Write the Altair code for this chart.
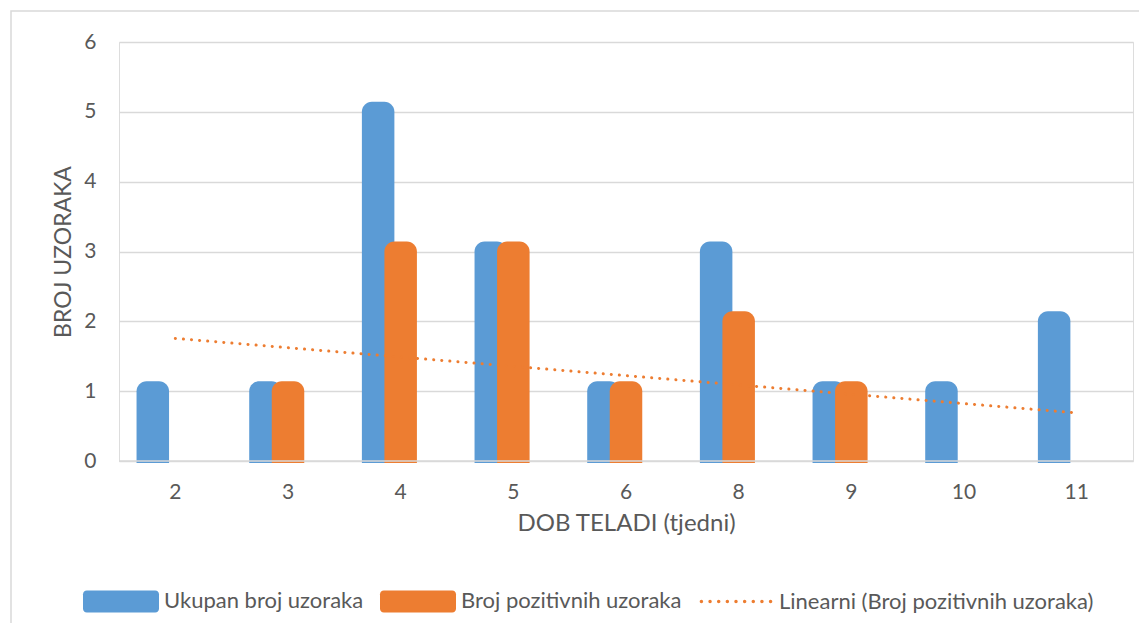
import altair as alt
import pandas as pd

# ---- data ----
dob = ["2", "3", "4", "5", "6", "8", "9", "10", "11"]
ukupan = [1, 1, 5, 3, 1, 3, 1, 1, 2]
pozitivni = [0, 1, 3, 3, 1, 2, 1, 0, 0]

SER_U = "Ukupan broj uzoraka"
SER_P = "Broj pozitivnih uzoraka"
SER_L = "Linearni (Broj pozitivnih uzoraka)"
series = [SER_U, SER_P, SER_L]
X_TITLE = "DOB TELADI (tjedni)"
Y_TITLE = "BROJ UZORAKA"
y_ticks = [0, 1, 2, 3, 4, 5, 6]

BLUE = "#5B9BD5"
ORANGE = "#ED7D31"
TXT = "#595959"
GRID = "#D9D9D9"
FONT = "Lato"

df = pd.DataFrame({
    "idx": list(range(1, len(dob) + 1)),
    "dob": dob,
    SER_U: ukupan,
    SER_P: pozitivni,
})
lookup_vals = [{"idx": i + 1, "dob": d} for i, d in enumerate(dob)]
legend_vals = [{"serija": s} for s in series]

# legend symbol shapes (unit square -1..1)
rrect = ("M-0.9,-0.29 H0.9 A0.1,0.1 0 0 1 1,-0.19 V0.19 A0.1,0.1 0 0 1 0.9,0.29 "
         "H-0.9 A0.1,0.1 0 0 1 -1,0.19 V-0.19 A0.1,0.1 0 0 1 -0.9,-0.29 Z")
_r = 0.045
_dots = []
for k in range(9):
    cx = -0.91 + k * 0.2275
    _dots.append(f"M{cx - _r:.4f},0 a{_r},{_r} 0 1,0 {2 * _r},0 a{_r},{_r} 0 1,0 {-2 * _r},0 Z")
dotline = " ".join(_dots)

xscale = alt.Scale(domain=dob, paddingInner=0.4, paddingOuter=0.2)
yscale = alt.Scale(domain=[0, 6])
color_scale = alt.Scale(domain=series, range=[BLUE, ORANGE, ORANGE])
shape_scale = alt.Scale(domain=series, range=[rrect, rrect, dotline])


def make_legend():
    return alt.Legend(
        title=None,
        orient="none",
        legendX=-36,
        legendY=521,
        direction="horizontal",
        columns=3,
        padding=0,
        symbolSize=76 * 76,
        symbolOpacity=1,
        symbolStrokeWidth=0,
        labelFont=FONT,
        labelFontSize=22,
        labelColor=TXT,
        labelOffset=5,
        labelLimit=0,
        columnPadding=16,
    )


x_axis = alt.Axis(
    title=X_TITLE, labelAngle=0, domain=False, ticks=False, grid=False,
    labelPadding=20, titlePadding=9,
    labelFont=FONT, labelFontSize=21, labelColor=TXT,
    titleFont=FONT, titleFontSize=24, titleColor=TXT, titleFontWeight="normal",
)
y_axis = alt.Axis(
    title=Y_TITLE, values=y_ticks, format="d", domain=False, ticks=False,
    grid=True, gridColor=GRID, gridWidth=1.5,
    labelPadding=23, titlePadding=8,
    labelFont=FONT, labelFontSize=21, labelColor=TXT,
    titleFont=FONT, titleFontSize=23, titleColor=TXT, titleFontWeight="normal",
)

frame = alt.Chart(alt.InlineData(values=[{}])).mark_rect(
    fillOpacity=0, stroke=GRID, strokeWidth=1.5
).encode(
    x=alt.value(-108), x2=alt.value(1040), y=alt.value(-31), y2=alt.value(700)
)

base = alt.Chart(df)

bars = base.transform_fold(
    [SER_U, SER_P], as_=["serija", "vrijednost"]
).transform_filter(
    "datum.vrijednost > 0"
).mark_bar(
    width=32.5, cornerRadiusTopLeft=10, cornerRadiusTopRight=10, yOffset=-10, y2Offset=2
).encode(
    x=alt.X("dob:N", scale=xscale, sort=dob, axis=x_axis),
    xOffset=alt.XOffset("serija:N", scale=alt.Scale(domain=[SER_U, SER_P, "_"], paddingInner=0, paddingOuter=0)),
    y=alt.Y("vrijednost:Q", scale=yscale, axis=y_axis, stack=False),
    y2=alt.datum(0),
    color=alt.Color("serija:N", scale=color_scale, legend=make_legend()),
)

zero_rule = alt.Chart(alt.InlineData(values=[{}])).mark_rule(
    color=GRID, strokeWidth=1.5
).encode(y=alt.datum(0))

trend = base.transform_regression(
    "idx", SER_P, method="linear", extent=[1, len(dob)]
).transform_lookup(
    lookup="idx",
    from_=alt.LookupData(data=alt.InlineData(values=lookup_vals), key="idx", fields=["dob"]),
).mark_line(
    color=ORANGE, strokeWidth=3, strokeDash=[0.1, 8], strokeCap="round"
).encode(
    x=alt.X("dob:N", scale=xscale, sort=dob),
    y=alt.Y(f"{SER_P}:Q", scale=yscale),
)

legend_layer = alt.Chart(alt.InlineData(values=legend_vals)).mark_point(
    filled=True, opacity=0
).encode(
    color=alt.Color("serija:N", scale=color_scale, legend=make_legend()),
    shape=alt.Shape("serija:N", scale=shape_scale, legend=make_legend()),
)

chart = alt.layer(frame, bars, zero_rule, trend, legend_layer).properties(
    width=1014,
    height=419,
    autosize=alt.AutoSizeParams(type="none"),
    padding={"left": 111, "top": 34, "right": 6, "bottom": 162},
).configure_view(strokeWidth=0).configure(background="white")

chart.save("out.html", embed_options={"renderer": "svg", "actions": False})
